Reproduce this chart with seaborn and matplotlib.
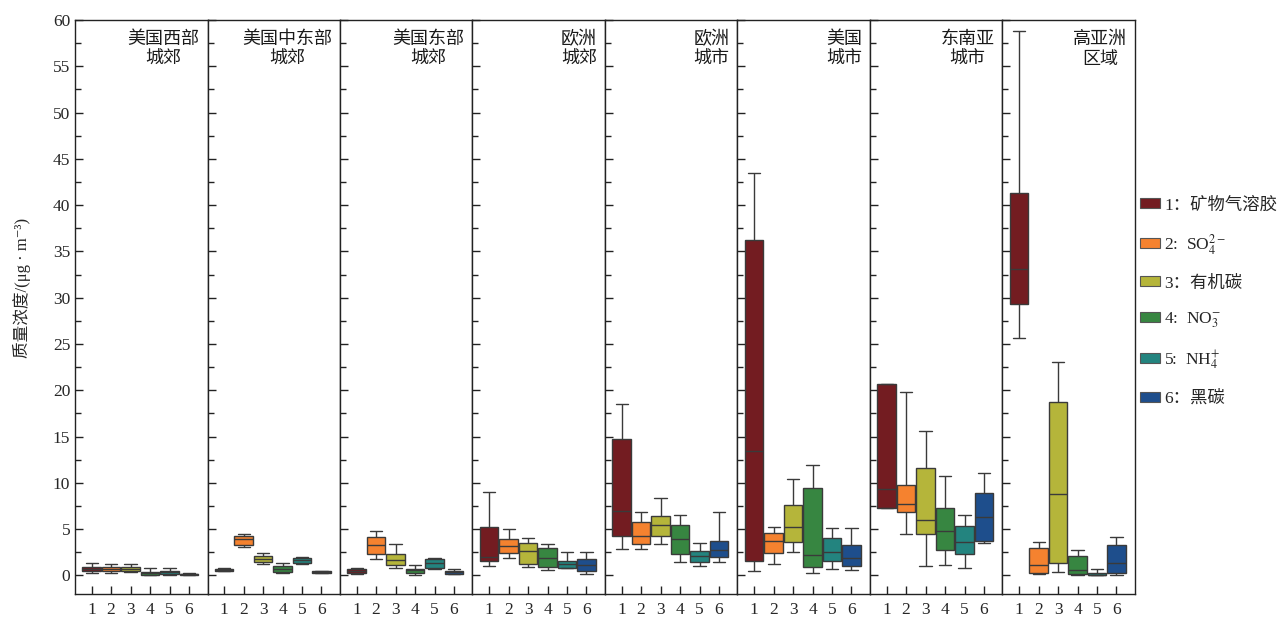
import numpy as np
import pandas as pd
import matplotlib
matplotlib.use("Agg")
import matplotlib.pyplot as plt
from matplotlib.patches import Patch
import seaborn as sns

# ---------------- data ----------------
regions = ["美国西部\n城郊", "美国中东部\n城郊", "美国东部\n城郊", "欧洲\n城郊",
           "欧洲\n城市", "美国\n城市", "东南亚\n城市", "高亚洲\n区域"]
components = ["1", "2", "3", "4", "5", "6"]
legend_labels = ["1：矿物气溶胶", "2:  SO$_4^{2-}$", "3：有机碳",
                 "4:  NO$_3^{-}$", "5:  NH$_4^{+}$", "6：黑碳"]
colors = ["#731c21", "#f5822f", "#b5b53a", "#378641", "#23847f", "#1e4e8c"]

mins = [
    [0.25, 0.30, 0.35, 0.05, 0.10, 0.05],
    [0.45, 3.03, 1.26, 0.30, 1.22, 0.28],
    [0.18, 1.73, 0.86, 0.07, 0.72, 0.15],
    [1.00, 1.87, 0.97, 0.58, 0.76, 0.18],
    [2.81, 2.81, 3.42, 1.51, 1.00, 1.51],
    [0.47, 1.23, 2.49, 0.22, 0.68, 0.54],
    [7.32, 4.43, 1.00, 1.12, 0.86, 3.46],
    [25.66, 0.14, 0.40, 0.03, 0.00, 0.00],
]
q1s = [
    [0.45, 0.45, 0.45, 0.07, 0.15, 0.10],
    [0.47, 3.30, 1.48, 0.40, 1.37, 0.30],
    [0.25, 2.27, 1.08, 0.29, 0.79, 0.18],
    [1.55, 2.38, 1.26, 0.90, 0.79, 0.50],
    [4.29, 3.35, 4.25, 2.31, 1.44, 2.02],
    [1.59, 2.45, 3.64, 0.97, 1.59, 1.05],
    [7.32, 6.81, 4.43, 2.78, 2.27, 3.75],
    [29.37, 0.29, 1.33, 0.18, 0.00, 0.25],
]
medians = [
    [0.70, 0.70, 0.75, 0.25, 0.35, 0.15],
    [0.60, 3.95, 1.80, 0.75, 1.65, 0.40],
    [0.50, 3.24, 1.69, 0.55, 1.30, 0.35],
    [2.05, 3.14, 2.63, 1.91, 1.26, 1.08],
    [6.99, 4.22, 5.48, 3.96, 2.09, 2.78],
    [13.48, 3.75, 5.26, 2.23, 2.56, 1.84],
    [9.30, 7.75, 6.02, 4.83, 3.64, 6.34],
    [33.08, 1.08, 8.79, 0.61, 0.10, 1.30],
]
q3s = [
    [0.95, 0.95, 0.95, 0.43, 0.50, 0.20],
    [0.72, 4.25, 2.13, 1.05, 1.87, 0.48],
    [0.68, 4.18, 2.31, 0.72, 1.73, 0.50],
    [5.19, 3.93, 3.53, 2.99, 1.59, 1.73],
    [14.78, 5.77, 6.38, 5.44, 2.63, 3.75],
    [36.29, 4.58, 7.64, 9.44, 4.07, 3.28],
    [20.72, 9.80, 11.60, 7.28, 5.33, 8.86],
    [41.26, 2.99, 18.74, 2.09, 0.22, 3.28],
]
maxs = [
    [1.35, 1.26, 1.25, 0.83, 0.83, 0.25],
    [0.86, 4.50, 2.38, 1.33, 1.98, 0.50],
    [0.79, 4.79, 3.42, 1.12, 1.91, 0.65],
    [9.00, 4.97, 4.07, 3.39, 2.56, 2.52],
    [18.56, 6.85, 8.36, 6.49, 3.53, 6.88],
    [43.50, 5.23, 10.45, 11.93, 5.12, 5.15],
    [20.72, 19.82, 15.60, 10.74, 6.52, 11.03],
    [58.85, 3.60, 23.10, 2.70, 0.72, 4.18],
]

# long-form table: five points per box give exactly min, q1, median, q3, max
rows = []
for r, reg in enumerate(regions):
    for c, comp in enumerate(components):
        for v in (mins[r][c], q1s[r][c], medians[r][c], q3s[r][c], maxs[r][c]):
            rows.append({"region": reg, "comp": comp, "value": v})
df = pd.DataFrame(rows)

# ---------------- style ----------------
sns.set_style("ticks")
plt.rcParams["font.family"] = ["Liberation Serif", "DejaVu Serif", "Noto Sans CJK SC"]
plt.rcParams["mathtext.fontset"] = "stix"
plt.rcParams["axes.linewidth"] = 1.0
plt.rcParams["axes.edgecolor"] = "#222222"

W, H = 1287, 621
fig, axes = plt.subplots(1, 8, figsize=(W / 100, H / 100), dpi=100, sharey=True)
fig.subplots_adjust(left=75 / W, right=1135 / W, top=1 - 20 / H, bottom=1 - 594 / H, wspace=0)

palette = dict(zip(components, colors))
for i, (ax, reg) in enumerate(zip(axes, regions)):
    sub = df[df["region"] == reg]
    sns.boxplot(data=sub, x="comp", y="value", hue="comp", palette=palette,
                order=components, hue_order=components, whis=(0, 100),
                width=0.95, saturation=1, linecolor="#3a3a3a", linewidth=1.0,
                capwidths=0.62, legend=False, ax=ax)
    ax.set_xlim(-0.85, 5.95)
    ax.set_ylim(-2, 60)
    ax.set_xlabel("")
    ax.set_ylabel("")
    ax.set_yticks(np.arange(0, 61, 5))
    ax.set_yticks(np.arange(0, 60, 2.5), minor=True)
    ax.tick_params(axis="y", which="major", direction="in", length=6, width=1,
                   labelsize=12.5, color="#222222", left=True, right=False,
                   labelleft=(i == 0))
    ax.tick_params(axis="y", which="minor", direction="in", length=4, width=1,
                   color="#222222", left=True, right=False)
    ax.tick_params(axis="x", direction="in", length=6, width=1, labelsize=12.5,
                   color="#222222", pad=6)
    for s in ax.spines.values():
        s.set_visible(True)
        s.set_linewidth(1.0)
        s.set_color("#222222")
    ax.text(1 - 8 / 132.5, 1 - 10 / 574, reg, transform=ax.transAxes,
            ha="right", va="top", multialignment="center", fontsize=13,
            linespacing=1.15, color="#1a1a1a",
            family=["Noto Sans CJK SC"], fontweight="light")

axes[0].set_ylabel("质量浓度/(μg · m⁻³)", fontsize=12,
                   family=["Liberation Serif", "DejaVu Serif", "Noto Sans CJK SC"])
axes[0].yaxis.set_label_coords(-0.33, (594 - 288) / 574)

handles = [Patch(facecolor=c, edgecolor="#555555", linewidth=0.8) for c in colors]
fig.legend(handles, legend_labels, loc="center left",
           bbox_to_anchor=(1140 / W, 1 - 302 / H), frameon=False,
           fontsize=12.5, handlelength=1.15, handleheight=0.5,
           handletextpad=0.25, labelspacing=1.07, borderaxespad=0, borderpad=0)

fig.savefig("out.png", dpi=100)
